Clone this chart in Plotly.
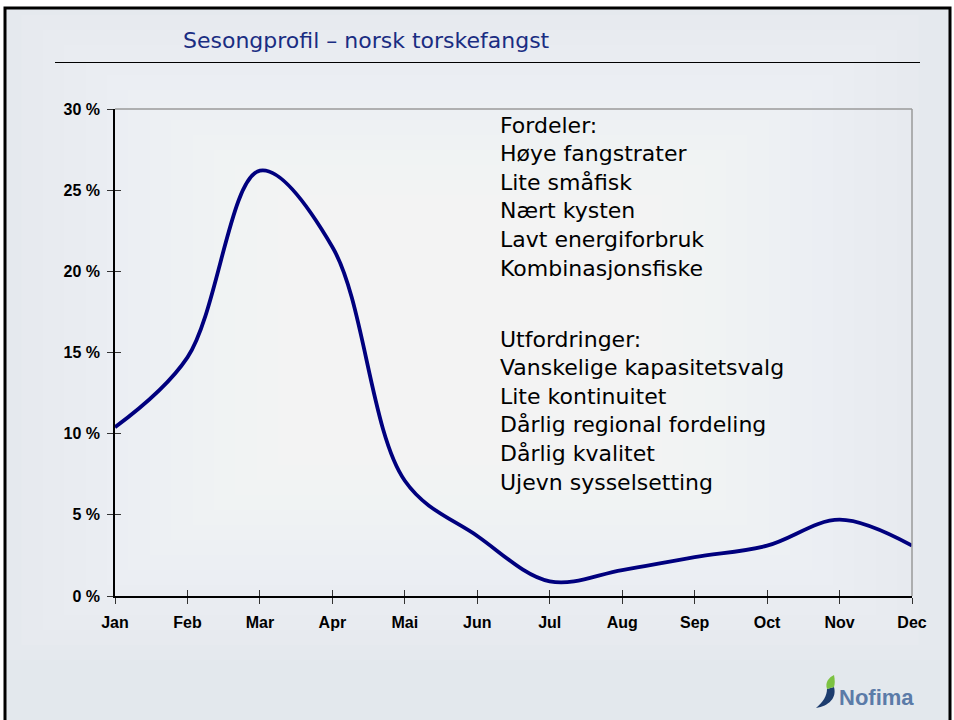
import plotly.graph_objects as go

# ---- data ----
months = ["Jan", "Feb", "Mar", "Apr", "Mai", "Jun", "Jul", "Aug", "Sep", "Oct", "Nov", "Dec"]
share_pct = [10.4, 14.7, 26.2, 21.5, 7.1, 3.7, 0.9, 1.6, 2.4, 3.1, 4.7, 3.1]
y_tick_vals = [0, 5, 10, 15, 20, 25, 30]
y_tick_text = ["0 %", "5 %", "10 %", "15 %", "20 %", "25 %", "30 %"]
title_text = "Sesongprofil – norsk torskefangst"
pros_lines = ["Fordeler:", "Høye fangstrater", "Lite småfisk", "Nært kysten",
              "Lavt energiforbruk", "Kombinasjonsfiske"]
cons_lines = ["Utfordringer:", "Vanskelige kapasitetsvalg", "Lite kontinuitet",
              "Dårlig regional fordeling", "Dårlig kvalitet", "Ujevn sysselsetting"]
logo_text = "Nofima"

# ---- geometry helpers (pixel -> paper) ----
W, H = 954, 720
L, R, T, B = 115, 912, 109, 596
PW, PH = R - L, B - T


def px(x):
    return (x - L) / PW


def py(y):
    return (B - y) / PH


x_idx = list(range(len(months)))

fig = go.Figure()
fig.add_trace(go.Scatter(
    x=x_idx, y=share_pct, mode="lines",
    line=dict(color="#00007e", width=3.8, shape="spline", smoothing=1.0),
    showlegend=False, hoverinfo="skip",
))
# invisible copy on overlay axes (for the inner half of crossing ticks)
fig.add_trace(go.Scatter(
    x=x_idx, y=share_pct, mode="lines", xaxis="x2", yaxis="y2",
    line=dict(color="#00007e", width=1), opacity=0,
    showlegend=False, hoverinfo="skip",
))

shapes = []
# slide background with soft radial-like brightening toward the centre
shapes.append(dict(type="rect", xref="paper", yref="paper", layer="below",
                   x0=px(5), x1=px(950), y0=py(740), y1=py(8),
                   fillcolor="#e3e8ed", line=dict(width=0)))
n_steps = 22
cx, cy = 470, 330
for k in range(n_steps):
    f = 1 - k / n_steps
    hw, hh = 470 * f, 330 * f
    shapes.append(dict(type="rect", xref="paper", yref="paper", layer="below",
                       x0=px(cx - hw), x1=px(cx + hw), y0=py(cy + hh), y1=py(cy - hh),
                       fillcolor="white", opacity=0.075, line=dict(width=0)))
# slide frame
shapes.append(dict(type="rect", xref="paper", yref="paper", layer="below",
                   x0=px(5), x1=px(950), y0=py(740), y1=py(8),
                   fillcolor="rgba(0,0,0,0)", line=dict(color="black", width=3)))
# grey top and right border of plot area
shapes.append(dict(type="line", xref="paper", yref="paper",
                   x0=0, x1=1, y0=1, y1=1, line=dict(color="#9a9a9a", width=1.5)))
shapes.append(dict(type="line", xref="paper", yref="paper",
                   x0=1, x1=1, y0=0, y1=1, line=dict(color="#9a9a9a", width=1.5)))
# title underline
shapes.append(dict(type="line", xref="paper", yref="paper",
                   x0=px(55), x1=px(920), y0=py(62.5), y1=py(62.5),
                   line=dict(color="black", width=1)))


def path_px(points):
    cmd = []
    for c, pts in points:
        coords = " ".join(f"{px(a):.5f},{py(b):.5f}" for a, b in pts)
        cmd.append(f"{c} {coords}")
    return " ".join(cmd) + " Z"


# logo swoosh
shapes.append(dict(type="path", xref="paper", yref="paper",
                   path=path_px([("M", [(834, 687)]),
                                 ("C", [(837, 698), (829, 706), (816, 708)]),
                                 ("C", [(823, 702), (827, 696), (827, 689)])]),
                   fillcolor="#1d3c6e", line=dict(width=0)))
shapes.append(dict(type="path", xref="paper", yref="paper",
                   path=path_px([("M", [(827, 689)]),
                                 ("C", [(825, 683), (828, 678), (834, 675)]),
                                 ("C", [(835, 680), (835, 684), (834, 687)])]),
                   fillcolor="#7cc242", line=dict(width=0)))

annotations = []
annotations.append(dict(text=title_text, xref="paper", yref="paper",
                        x=px(181), y=py(41), xanchor="left", yanchor="middle",
                        showarrow=False,
                        font=dict(family="DejaVu Sans", size=22, color="#1a2d82")))
step = 28.6
text_font = dict(family="DejaVu Sans", size=22, color="black")
for i, line in enumerate(pros_lines):
    annotations.append(dict(text=line, xref="paper", yref="paper",
                            x=px(498), y=py(125 + i * step), xanchor="left", yanchor="middle",
                            showarrow=False, font=text_font))
for i, line in enumerate(cons_lines):
    annotations.append(dict(text=line, xref="paper", yref="paper",
                            x=px(498), y=py(339 + i * step), xanchor="left", yanchor="middle",
                            showarrow=False, font=text_font))
annotations.append(dict(text=f"<b>{logo_text}</b>", xref="paper", yref="paper",
                        x=px(837), y=py(697), xanchor="left", yanchor="middle",
                        showarrow=False,
                        font=dict(family="Liberation Sans", size=22, color="#5b7ba8")))

tickfont = dict(family="Liberation Sans", size=16, color="black")

fig.update_layout(
    width=W, height=H,
    margin=dict(l=L, r=W - R, t=T, b=H - B, pad=0),
    paper_bgcolor="white",
    plot_bgcolor="rgba(0,0,0,0)",
    showlegend=False,
    shapes=shapes,
    annotations=annotations,
    xaxis=dict(
        range=[0, len(months) - 1], tickvals=x_idx,
        ticktext=[f"<b>{m}</b>" for m in months],
        ticks="outside", ticklen=6, tickwidth=1.2, tickcolor="#333",
        ticklabelstandoff=5,
        showline=True, linecolor="black", linewidth=1.5,
        showgrid=False, zeroline=False, tickfont=tickfont,
        fixedrange=True,
    ),
    yaxis=dict(
        range=[0, 30], tickvals=y_tick_vals,
        ticktext=[f"<b>{t}</b>" for t in y_tick_text],
        ticks="outside", ticklen=6, tickwidth=1.2, tickcolor="#333",
        ticklabelstandoff=4,
        showline=True, linecolor="black", linewidth=1.5,
        showgrid=False, zeroline=False, tickfont=tickfont,
        fixedrange=True,
    ),
    xaxis2=dict(
        overlaying="x", anchor="y2", side="bottom",
        range=[0, len(months) - 1], tickvals=x_idx,
        ticks="inside", ticklen=6, tickwidth=1.2, tickcolor="#333",
        showticklabels=False, showline=False, showgrid=False, zeroline=False,
        fixedrange=True,
    ),
    yaxis2=dict(
        overlaying="y", anchor="x2", side="left",
        range=[0, 30], tickvals=y_tick_vals,
        ticks="inside", ticklen=6, tickwidth=1.2, tickcolor="#333",
        showticklabels=False, showline=False, showgrid=False, zeroline=False,
        fixedrange=True,
    ),
)

fig.write_html(
    "out.html",
    config={"displayModeBar": False},
    post_script="document.body.style.margin='0';document.body.style.overflow='hidden';",
)
